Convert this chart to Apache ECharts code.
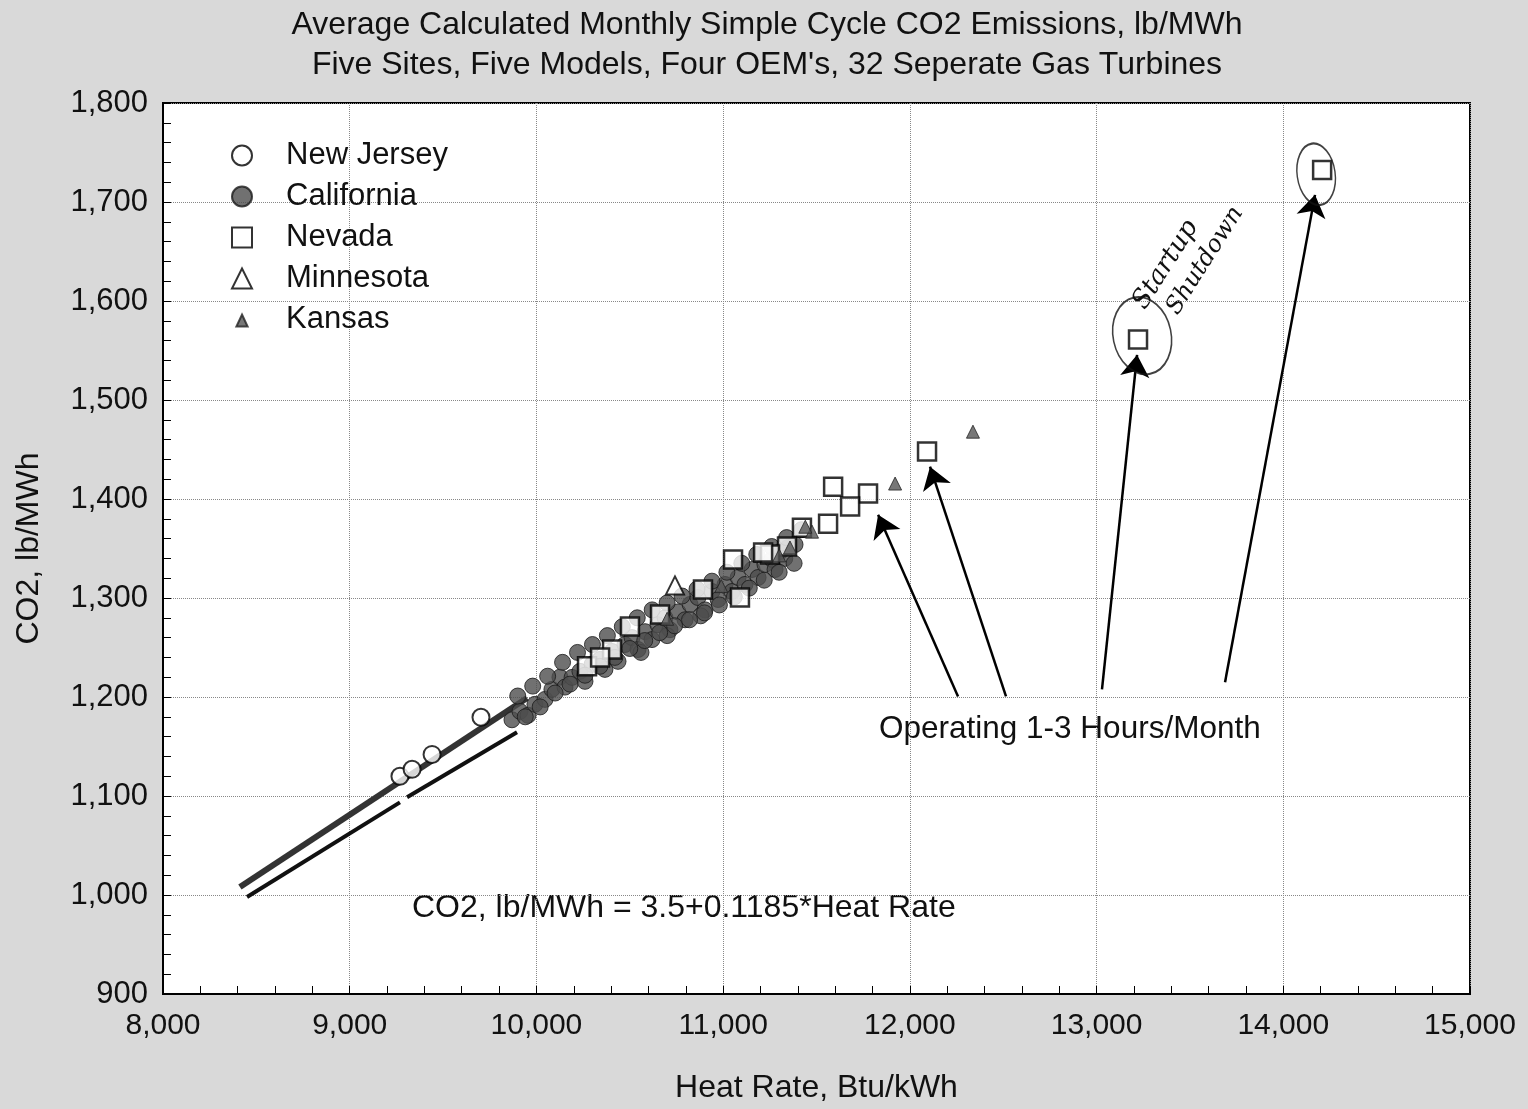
<!DOCTYPE html>
<html>
<head>
<meta charset="utf-8">
<script src="https://cdn.jsdelivr.net/npm/echarts@6/dist/echarts.min.js"></script>
<style>
html,body{margin:0;padding:0;background:#d9d9d9;}
#chart{width:1528px;height:1109px;}
</style>
</head>
<body>
<div id="chart"></div>
<script>
// ---- Data (Heat Rate Btu/kWh, CO2 lb/MWh) ----
const newJerseyHR  = [9269, 9334, 9441, 9703];
const newJerseyCO2 = [1120, 1127, 1142, 1179.5];

// California: dense band of monthly averages (centre, upper and lower edge readings)
const californiaHR  = [9869, 9912, 9955, 9992, 10046, 10083, 10126, 10153, 10191, 10233, 10260, 10298, 10341, 10367, 10405, 10437, 10474, 10512, 10544, 10582, 10619, 10651, 10689, 10715, 10758, 10796, 10823, 10865, 10903, 10940, 10973, 11010, 11048, 11080, 11117, 11155, 11187, 11224, 11262, 11305, 11347, 11385, 11278, 11330, 10560, 10700, 10880,
  9900, 9980, 10060, 10140, 10220, 10300, 10380, 10460, 10540, 10620, 10700, 10780, 10860, 10940, 11020, 11100, 11180, 11260, 11340, 11420,
  9940, 10020, 10100, 10180, 10260, 10340, 10420, 10500, 10580, 10660, 10740, 10820, 10900, 10980, 11060, 11140, 11220, 11300, 11380];
const californiaCO2 = [1177, 1185.5, 1181.5, 1192.6, 1197.6, 1207.7, 1220, 1210, 1219.8, 1225.9, 1215.8, 1232.9, 1238, 1227.9, 1246, 1236, 1253, 1260, 1248, 1266, 1258, 1273, 1280, 1268, 1286, 1278, 1293.5, 1300.5, 1288, 1306.6, 1298.5, 1313.7, 1306.6, 1320.7, 1313.7, 1328.8, 1320.7, 1333.8, 1339, 1347, 1351, 1354, 1328.8, 1340, 1245, 1262, 1282,
  1201, 1211, 1221, 1235, 1245, 1253, 1262, 1271, 1280, 1288, 1295, 1302, 1309, 1317, 1326, 1335, 1344, 1352, 1361, 1369,
  1180, 1190, 1204, 1213, 1222, 1231, 1240, 1249, 1257, 1265, 1272, 1278, 1285, 1293, 1301, 1310, 1318, 1326, 1335];

const nevadaHR  = [14208, 13222, 12092, 11776, 11589, 11680, 11562, 11422, 11342, 11251, 11214, 11053, 11090, 10892, 10662, 10501, 10405, 10271, 10341];
const nevadaCO2 = [1732.4, 1561, 1448, 1405.5, 1412.5, 1392.4, 1375, 1371, 1352, 1344, 1346, 1339, 1300.5, 1308.6, 1283.4, 1271.3, 1248, 1231, 1240];

const minnesotaHR  = [10742];
const minnesotaCO2 = [1312.7];

const kansasHR  = [12338, 11921, 11476, 11358, 11300, 10990, 10700, 11440];
const kansasCO2 = [1468, 1415.6, 1367, 1351, 1343, 1312, 1279, 1372];

// visible fitted band lines
const upperBandHR  = [8412, 9950];
const upperBandCO2 = [1008, 1199];
const lowerBand1HR  = [8450, 9269];
const lowerBand1CO2 = [998, 1093.6];
const lowerBand2HR  = [9307, 9896];
const lowerBand2CO2 = [1098.8, 1164.3];

// annotation arrows: from (HR, CO2) to (HR, CO2)
const arrowsFromHR  = [12258, 12515, 13029, 13688];
const arrowsFromCO2 = [1200.6, 1200.6, 1207.7, 1214.8];
const arrowsToHR    = [11830, 12108, 13217, 14170];
const arrowsToCO2   = [1384, 1432.7, 1545.7, 1707.2];

// hand-drawn loops around startup/shutdown points
const loopHR  = [13244, 14176];
const loopCO2 = [1565, 1728];

const xTicks = [8000, 9000, 10000, 11000, 12000, 13000, 14000, 15000];
const yTicks = [900, 1000, 1100, 1200, 1300, 1400, 1500, 1600, 1700, 1800];

const zip = (a, b) => a.map((v, i) => [v, b[i]]);
const FONT = '"Liberation Sans", Arial, sans-serif';
const fmt = v => v.toLocaleString('en-US');

const chart = echarts.init(document.getElementById('chart'));
const ellipse = 'path://M50,0 C77.6,0 100,22.4 100,50 C100,77.6 77.6,100 50,100 C22.4,100 0,77.6 0,50 C0,22.4 22.4,0 50,0 Z';

const option = {
  backgroundColor: '#d9d9d9',
  animation: false,
  title: {
    text: 'Average Calculated Monthly Simple Cycle CO2 Emissions, lb/MWh\nFive Sites, Five Models, Four OEM\'s, 32 Seperate Gas Turbines',
    left: 762, textAlign: 'center', top: 0,
    textStyle: { fontFamily: FONT, fontSize: 32, fontWeight: 'normal', color: '#111', lineHeight: 40 }
  },
  legend: {
    orient: 'vertical', left: 231, top: 140, padding: 0,
    itemWidth: 20, itemHeight: 20, itemGap: 10,
    textStyle: { fontFamily: FONT, fontSize: 31, lineHeight: 30, color: '#111', padding: [0, 0, 0, 29] },
    data: [
      { name: 'New Jersey' },
      { name: 'California' },
      { name: 'Nevada' },
      { name: 'Minnesota' },
      { name: 'Kansas', icon: 'path://M0,0 M100,100 M50,25 L78,85 L22,85 Z' }
    ]
  },
  grid: { left: 163, right: 58, top: 103, bottom: 114, show: true, backgroundColor: '#fff', borderColor: '#000', borderWidth: 2 },
  xAxis: {
    type: 'value', min: 8000, max: 15000, interval: 1000,
    name: 'Heat Rate, Btu/kWh', nameLocation: 'middle', nameGap: 78,
    nameTextStyle: { fontFamily: FONT, fontSize: 32, color: '#111' },
    axisLine: { show: true, lineStyle: { color: '#000', width: 2 } },
    axisTick: { show: true, inside: true, length: 8, lineStyle: { color: '#000' } },
    minorTick: { show: true, splitNumber: 5, length: 8, lineStyle: { color: '#000' } },
    axisLabel: { fontFamily: FONT, fontSize: 30, color: '#111', margin: 17, formatter: fmt, customValues: xTicks },
    splitLine: { show: true, lineStyle: { type: 'dotted', color: '#888', width: 1 } }
  },
  yAxis: {
    type: 'value', min: 900, max: 1800, interval: 100,
    name: 'CO2, lb/MWh', nameLocation: 'middle', nameGap: 118, nameRotate: 90,
    nameTextStyle: { fontFamily: FONT, fontSize: 32, color: '#111' },
    axisLine: { show: true, lineStyle: { color: '#000', width: 2 } },
    axisTick: { show: true, inside: true, length: 8, lineStyle: { color: '#000' } },
    minorTick: { show: true, splitNumber: 5, length: 8, lineStyle: { color: '#000' } },
    axisLabel: { fontFamily: FONT, fontSize: 31, color: '#111', margin: 15, formatter: fmt, customValues: yTicks },
    splitLine: { show: true, lineStyle: { type: 'dotted', color: '#888', width: 1 } }
  },
  series: [
    { name: 'upperBand', type: 'line', data: zip(upperBandHR, upperBandCO2), symbol: 'none', z: 2,
      lineStyle: { color: '#333', width: 6 }, silent: true },
    { name: 'lowerBand1', type: 'line', data: zip(lowerBand1HR, lowerBand1CO2), symbol: 'none', z: 2,
      lineStyle: { color: '#111', width: 4 }, silent: true },
    { name: 'lowerBand2', type: 'line', data: zip(lowerBand2HR, lowerBand2CO2), symbol: 'none', z: 2,
      lineStyle: { color: '#111', width: 4 }, silent: true },
    { name: 'California', type: 'scatter', data: zip(californiaHR, californiaCO2), symbol: 'circle', symbolSize: 16, z: 3,
      itemStyle: { color: '#4d4d4d', borderColor: '#1a1a1a', borderWidth: 1 } },
    { name: 'Nevada', type: 'scatter', data: zip(nevadaHR, nevadaCO2), symbol: 'rect', symbolSize: 18, z: 4,
      itemStyle: { color: '#fff', borderColor: '#000', borderWidth: 2.5 } },
    { name: 'New Jersey', type: 'scatter', data: zip(newJerseyHR, newJerseyCO2), symbol: 'circle', symbolSize: 17, z: 4,
      itemStyle: { color: '#fff', borderColor: '#000', borderWidth: 2 } },
    { name: 'Minnesota', type: 'scatter', data: zip(minnesotaHR, minnesotaCO2), symbol: 'triangle', symbolSize: 18, z: 5,
      itemStyle: { color: '#fff', borderColor: '#000', borderWidth: 2 } },
    { name: 'Kansas', type: 'scatter', data: zip(kansasHR, kansasCO2), symbol: 'triangle', symbolSize: 13, z: 5,
      itemStyle: { color: '#555', borderColor: '#222', borderWidth: 1 } },
    { name: 'arrows', type: 'lines', coordinateSystem: 'cartesian2d', z: 6, silent: true,
      symbol: ['none', 'arrow'], symbolSize: [12, 22],
      lineStyle: { color: '#000', width: 2.5, opacity: 1, curveness: 0 },
      data: arrowsFromHR.map((v, i) => ({ coords: [[v, arrowsFromCO2[i]], [arrowsToHR[i], arrowsToCO2[i]]] })) },
    { name: 'loops', type: 'scatter', z: 6, silent: true, symbol: ellipse,
      data: [
        { value: [loopHR[0], loopCO2[0]], symbolSize: [58, 78], symbolRotate: 12 },
        { value: [loopHR[1], loopCO2[1]], symbolSize: [38, 62], symbolRotate: 8 }
      ],
      itemStyle: { color: 'rgba(0,0,0,0)', borderColor: '#111', borderWidth: 1.8 } }
  ],
  graphic: [
    { type: 'text', left: 879, top: 713, style: { text: 'Operating 1-3 Hours/Month', font: '31.5px ' + FONT, fill: '#111' } },
    { type: 'text', left: 412, top: 892, style: { text: 'CO2, lb/MWh = 3.5+0.1185*Heat Rate', font: '32px ' + FONT, fill: '#111' } },
    { type: 'text', x: 1128, y: 300, rotation: Math.PI * 0.32, originX: 0, originY: 0,
      style: { text: 'Startup', font: 'italic 26px "DejaVu Serif", serif', fill: '#111' } },
    { type: 'text', x: 1162, y: 306, rotation: Math.PI * 0.32, originX: 0, originY: 0,
      style: { text: 'Shutdown', font: 'italic 24px "DejaVu Serif", serif', fill: '#111' } }
  ]
};
chart.setOption(option);
</script>
</body>
</html>
